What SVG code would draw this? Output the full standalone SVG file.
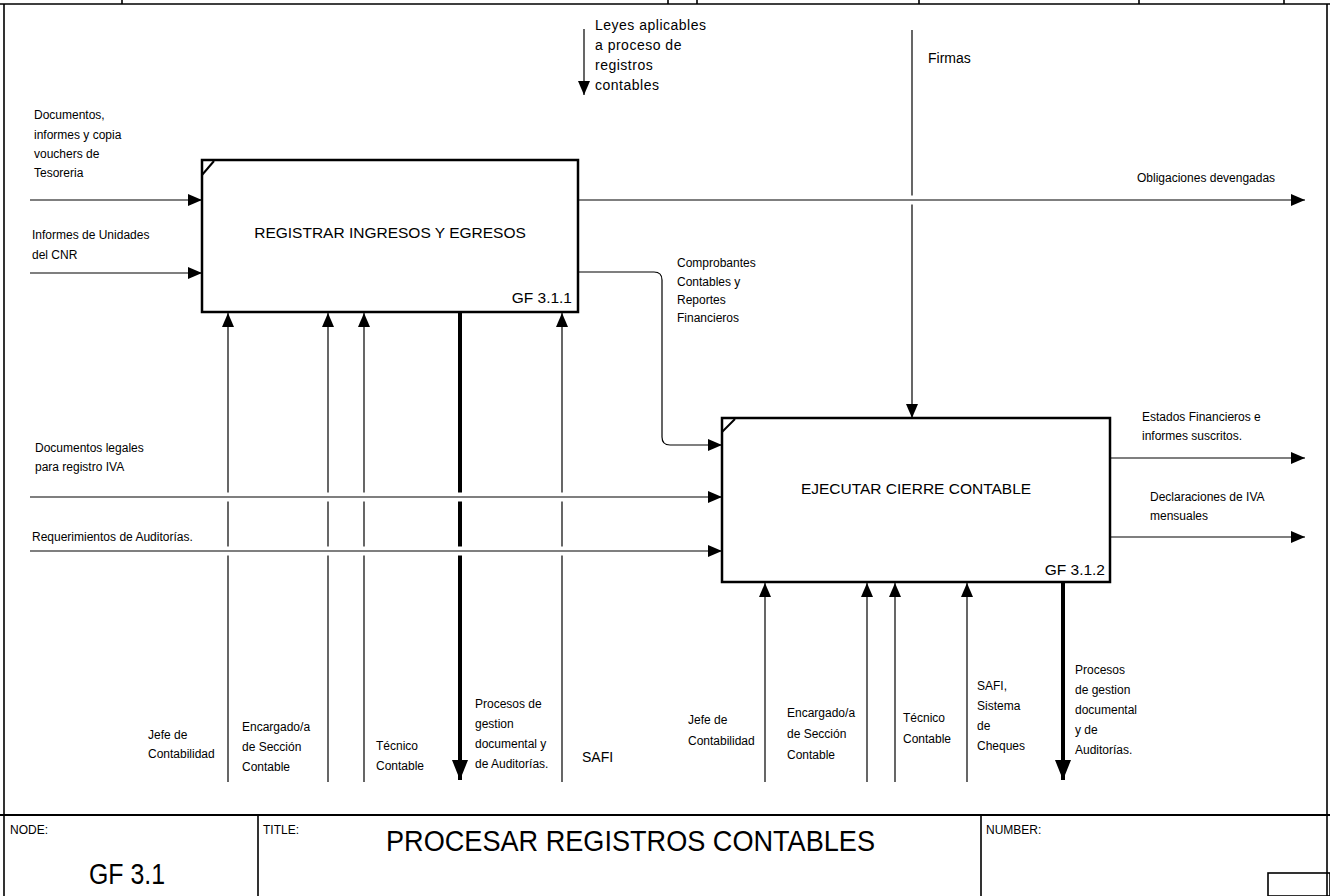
<svg xmlns="http://www.w3.org/2000/svg" width="1330" height="896" viewBox="0 0 1330 896">
<style>
.t{font-family:"Liberation Sans",Arial,sans-serif;font-size:12px;fill:#000}
.lb{font-size:15.5px}
.box{fill:#fff;stroke:#000;stroke-width:2.5}
.ln{stroke:#000;stroke-width:1.2;fill:none}
.tk{stroke:#000;stroke-width:4;fill:none}
.halo{stroke:#fff;stroke-width:9;fill:none}
.fr{stroke:#000;stroke-width:1.6;fill:none}
</style>
<defs>
<marker id="ah" markerUnits="userSpaceOnUse" markerWidth="14" markerHeight="12" refX="14" refY="6" orient="auto"><path d="M0,0L14,6L0,12z" fill="#000"/></marker>
<marker id="ahT" markerUnits="userSpaceOnUse" markerWidth="22" markerHeight="16" refX="20" refY="8" orient="auto"><path d="M0,0L20,8L0,16z" fill="#000"/></marker>
</defs>
<rect width="1330" height="896" fill="#fff"/>
<g id="frame">
<path class="fr" d="M0,4H1330M4,4V896M1327,4V896M258,815V896M981,815V896"/>
<path class="fr" d="M0,815H1330" style="stroke-width:2"/>
<path class="fr" d="M122,0V4M668,0V4M697,0V4M919,0V4M1139,0V4M1284,0V4"/>
<rect x="1268" y="873" width="62" height="23" class="fr"/>
<text class="t" x="10" y="834">NODE:</text>
<text class="t" x="263" y="834">TITLE:</text>
<text class="t" x="986" y="834">NUMBER:</text>
<text class="t" x="89" y="884" style="font-size:29px" textLength="76" lengthAdjust="spacingAndGlyphs">GF 3.1</text>
<text class="t" x="386" y="851" style="font-size:30px" textLength="489" lengthAdjust="spacingAndGlyphs">PROCESAR  REGISTROS CONTABLES</text>
</g>
<g id="connectors">
<path class="ln" d="M912,30V418" marker-end="url(#ah)"/>
<path class="ln" d="M228,782V313" marker-end="url(#ah)"/>
<path class="ln" d="M328,782V313" marker-end="url(#ah)"/>
<path class="ln" d="M364,782V313" marker-end="url(#ah)"/>
<path class="ln" d="M562,782V313" marker-end="url(#ah)"/>
<path class="tk" d="M460,312V780" marker-end="url(#ahT)"/>
<path class="ln" d="M765,782V583" marker-end="url(#ah)"/>
<path class="ln" d="M867,782V583" marker-end="url(#ah)"/>
<path class="ln" d="M895,782V583" marker-end="url(#ah)"/>
<path class="ln" d="M967,782V583" marker-end="url(#ah)"/>
<path class="tk" d="M1063,582V780" marker-end="url(#ahT)"/>
<path class="halo" d="M40,497H700M40,551H700M600,200H1290"/>
<path class="ln" d="M30,200H202" marker-end="url(#ah)"/>
<path class="ln" d="M30,273H202" marker-end="url(#ah)"/>
<path class="ln" d="M30,497H722" marker-end="url(#ah)"/>
<path class="ln" d="M30,551H722" marker-end="url(#ah)"/>
<path class="ln" d="M578,272H654Q662,272 662,280V437Q662,445 670,445H722" marker-end="url(#ah)"/>
<path class="ln" d="M578,200H1305" marker-end="url(#ah)"/>
<path class="ln" d="M1110,458H1305" marker-end="url(#ah)"/>
<path class="ln" d="M1110,537H1305" marker-end="url(#ah)"/>
<path class="ln" d="M584,29V95" marker-end="url(#ah)"/>
</g>
<g id="node-gf311">
<rect class="box" x="202" y="160" width="376" height="152"/>
<path class="ln" d="M202,175L214,161" style="stroke-width:2"/>
<text class="t lb" x="390" y="238" text-anchor="middle">REGISTRAR INGRESOS Y EGRESOS</text>
<text class="t lb" x="572" y="303" text-anchor="end">GF 3.1.1</text>
</g>
<g id="node-gf312">
<rect class="box" x="722" y="418" width="388" height="164"/>
<path class="ln" d="M722,432L735,419" style="stroke-width:2"/>
<text class="t lb" x="916" y="494" text-anchor="middle">EJECUTAR CIERRE CONTABLE</text>
<text class="t lb" x="1105" y="575" text-anchor="end">GF 3.1.2</text>
</g>
<g id="labels">
<text class="t" x="34" y="119">Documentos,</text>
<text class="t" x="34" y="139">informes y copia</text>
<text class="t" x="34" y="158">vouchers de</text>
<text class="t" x="34" y="177">Tesoreria</text>
<text class="t" x="32" y="239">Informes de Unidades</text>
<text class="t" x="32" y="259">del CNR</text>
<text class="t" x="35" y="452">Documentos legales</text>
<text class="t" x="35" y="471">para registro IVA</text>
<text class="t" x="32" y="541">Requerimientos de Auditorías.</text>
<g style="letter-spacing:0.5px">
<text class="t" x="595" y="30" style="font-size:14px">Leyes aplicables</text>
<text class="t" x="595" y="50" style="font-size:14px">a proceso de</text>
<text class="t" x="595" y="70" style="font-size:14px">registros</text>
<text class="t" x="595" y="90" style="font-size:14px">contables</text>
</g>
<text class="t" x="928" y="63" style="font-size:14px">Firmas</text>
<text class="t" x="1137" y="182">Obligaciones devengadas</text>
<text class="t" x="677" y="267">Comprobantes</text>
<text class="t" x="677" y="286">Contables y</text>
<text class="t" x="677" y="304">Reportes</text>
<text class="t" x="677" y="322">Financieros</text>
<text class="t" x="1142" y="421">Estados Financieros e</text>
<text class="t" x="1142" y="440">informes suscritos.</text>
<text class="t" x="1150" y="501">Declaraciones de IVA</text>
<text class="t" x="1150" y="520">mensuales</text>
<text class="t" x="148" y="739">Jefe de</text>
<text class="t" x="148" y="758">Contabilidad</text>
<text class="t" x="242" y="731">Encargado/a</text>
<text class="t" x="242" y="751">de Sección</text>
<text class="t" x="242" y="771">Contable</text>
<text class="t" x="376" y="750">Técnico</text>
<text class="t" x="376" y="770">Contable</text>
<text class="t" x="475" y="708">Procesos de</text>
<text class="t" x="475" y="728">gestion</text>
<text class="t" x="475" y="748">documental y</text>
<text class="t" x="475" y="768">de Auditorías.</text>
<text class="t" x="582" y="762" style="font-size:14px">SAFI</text>
<text class="t" x="688" y="724">Jefe de</text>
<text class="t" x="688" y="745">Contabilidad</text>
<text class="t" x="787" y="717">Encargado/a</text>
<text class="t" x="787" y="738">de Sección</text>
<text class="t" x="787" y="759">Contable</text>
<text class="t" x="903" y="722">Técnico</text>
<text class="t" x="903" y="743">Contable</text>
<text class="t" x="977" y="690">SAFI,</text>
<text class="t" x="977" y="710">Sistema</text>
<text class="t" x="977" y="730">de</text>
<text class="t" x="977" y="750">Cheques</text>
<text class="t" x="1075" y="674">Procesos</text>
<text class="t" x="1075" y="694">de gestion</text>
<text class="t" x="1075" y="714">documental</text>
<text class="t" x="1075" y="734">y de</text>
<text class="t" x="1075" y="754">Auditorías.</text>
</g>
</svg>
